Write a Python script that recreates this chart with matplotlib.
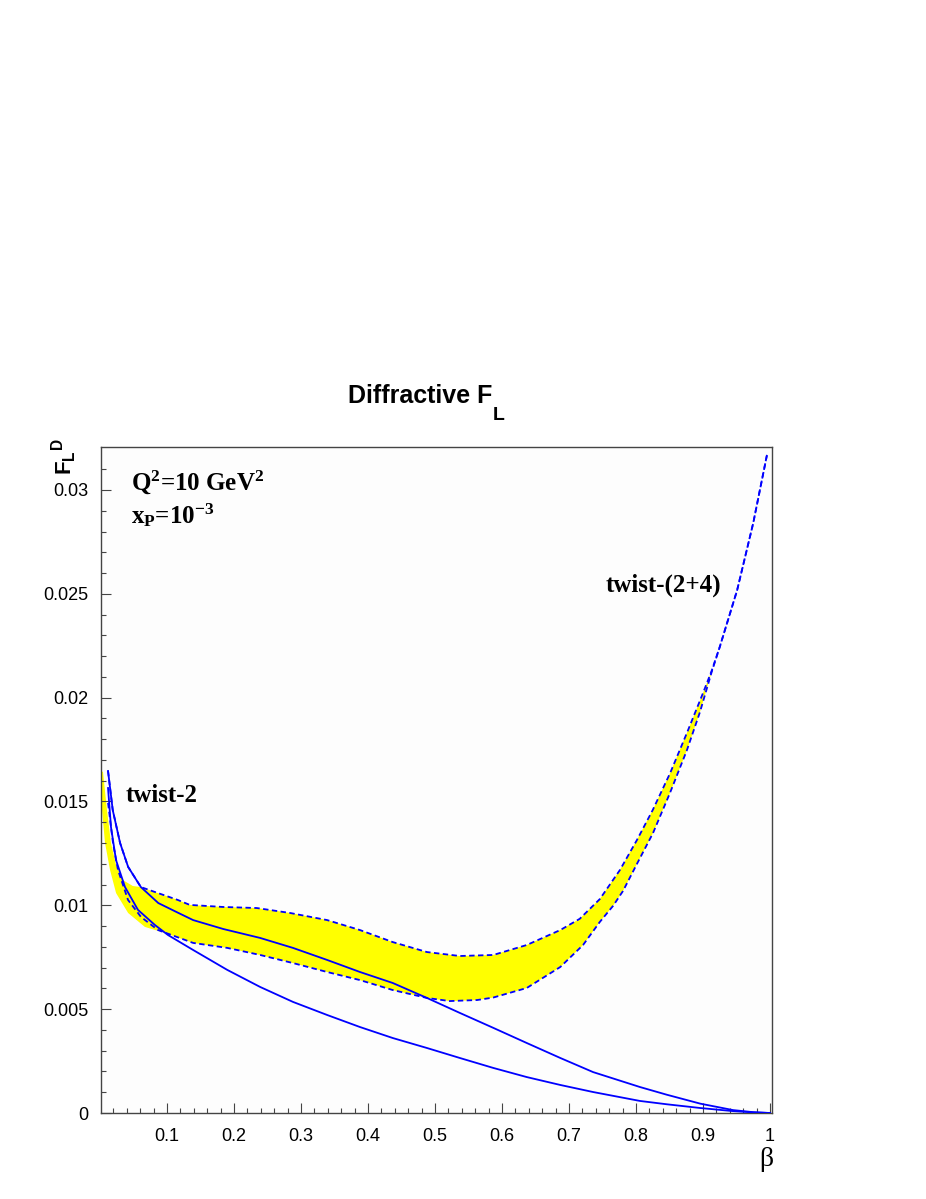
import numpy as np
import matplotlib
matplotlib.use("Agg")
import matplotlib.pyplot as plt

plt.rcParams['mathtext.fontset'] = 'custom'
plt.rcParams['mathtext.rm'] = 'Liberation Serif:bold'
plt.rcParams['mathtext.it'] = 'Liberation Serif:bold'
plt.rcParams['mathtext.bf'] = 'Liberation Serif:bold'
plt.rcParams['mathtext.sf'] = 'Liberation Sans:bold'

# twist-2, upper solid curve
beta_t2_a = [0.012, 0.019, 0.030, 0.042, 0.061, 0.087, 0.116, 0.139, 0.184, 0.239,
             0.288, 0.339, 0.388, 0.437, 0.488, 0.537, 0.587, 0.637, 0.687, 0.736,
             0.806, 0.846, 0.896, 0.945, 0.975, 1.0]
F_t2_a = [0.01647, 0.01459, 0.01300, 0.01185, 0.01088, 0.01011, 0.00965, 0.00929, 0.00886, 0.00843,
          0.00795, 0.00737, 0.00679, 0.00626, 0.00554, 0.00482, 0.00410, 0.00337, 0.00265, 0.00197,
          0.00125, 0.00088, 0.00045, 0.00014, 0.00004, 0.0]

# twist-2, lower solid curve
beta_t2_b = [0.012, 0.0164, 0.0239, 0.0373, 0.0567, 0.0821, 0.1015, 0.139, 0.190, 0.239,
             0.288, 0.339, 0.388, 0.437, 0.488, 0.537, 0.587, 0.637, 0.687, 0.736,
             0.806, 0.846, 0.896, 0.945, 0.975, 1.0]
F_t2_b = [0.01565, 0.01377, 0.01218, 0.01088, 0.00978, 0.00905, 0.00857, 0.00785, 0.00689, 0.00607,
          0.00535, 0.00472, 0.00414, 0.00361, 0.00313, 0.00265, 0.00217, 0.00173, 0.00135, 0.00101,
          0.00058, 0.00042, 0.00024, 0.00009, 0.00003, 0.0]

# twist-(2+4), upper dashed curve
beta_t24_a = [0.012, 0.019, 0.030, 0.042, 0.061, 0.0866, 0.116, 0.134, 0.184, 0.234,
              0.284, 0.339, 0.388, 0.437, 0.488, 0.537, 0.587, 0.637, 0.687, 0.716,
              0.746, 0.776, 0.8015, 0.825, 0.851, 0.876, 0.900, 0.913, 0.925, 0.951,
              0.975, 0.9955]
F_t24_a = [0.01647, 0.01459, 0.01300, 0.01185, 0.01088, 0.01059, 0.01026, 0.01002, 0.00992, 0.00987,
           0.00963, 0.00929, 0.00881, 0.00823, 0.00775, 0.00756, 0.00761, 0.00809, 0.00881, 0.00935,
           0.01030, 0.01170, 0.01315, 0.01459, 0.01637, 0.01830, 0.02022, 0.02130, 0.02244, 0.02518,
           0.02841, 0.03169]

# twist-(2+4), lower dashed curve
beta_t24_b = [0.012, 0.0194, 0.0269, 0.0418, 0.0612, 0.0866, 0.139, 0.190, 0.239, 0.288,
              0.339, 0.388, 0.437, 0.488, 0.522, 0.563, 0.587, 0.637, 0.687, 0.721,
              0.746, 0.7657, 0.7806, 0.8015, 0.8254, 0.8507, 0.8761, 0.8955, 0.913, 0.925,
              0.951, 0.975, 0.9955]
F_t24_b = [0.01493, 0.01300, 0.01170, 0.01026, 0.00944, 0.00881, 0.00819, 0.00795, 0.00761, 0.00722,
           0.00679, 0.00640, 0.00592, 0.00554, 0.00539, 0.00544, 0.00556, 0.00602, 0.00703, 0.00809,
           0.00920, 0.00997, 0.01069, 0.01200, 0.01348, 0.01541, 0.01748, 0.01931, 0.02124, 0.02244,
           0.02518, 0.02841, 0.03169]

# yellow band edges at small beta (band leans left of the curves there)
band_top_beta = [0.0015, 0.0045, 0.0104, 0.0164, 0.024, 0.034, 0.049, 0.061]
band_top_F = [0.01647, 0.01642, 0.01459, 0.01300, 0.01194, 0.01122, 0.01093, 0.01088]
band_bot_beta = [0.0015, 0.003, 0.0075, 0.015, 0.024, 0.042, 0.067, 0.097]
band_bot_F = [0.01642, 0.01459, 0.01300, 0.01170, 0.01059, 0.00963, 0.00896, 0.00867]

xticks = [0.1, 0.2, 0.3, 0.4, 0.5, 0.6, 0.7, 0.8, 0.9, 1.0]
xticklabels = ['0.1', '0.2', '0.3', '0.4', '0.5', '0.6', '0.7', '0.8', '0.9', '1']
yticks = [0, 0.005, 0.01, 0.015, 0.02, 0.025, 0.03]
yticklabels = ['0', '0.005', '0.01', '0.015', '0.02', '0.025', '0.03']

fig = plt.figure(figsize=(9.26, 11.99), dpi=100)
ax = fig.add_axes([101/926, 1-1113/1199, 671/926, 666/1199])
ax.set_facecolor('#fdfdfd')

# band polygon
ua_b = np.array(beta_t24_a)
ua_f = np.array(F_t24_a)
lb_b = np.array(beta_t24_b)
lb_f = np.array(F_t24_b)
m_up = (ua_b > 0.07) & (ua_b <= 0.913)
m_lo = (lb_b > 0.12) & (lb_b <= 0.913)
poly_x = np.concatenate([band_top_beta, ua_b[m_up], lb_b[m_lo][::-1], band_bot_beta[::-1]])
poly_y = np.concatenate([band_top_F, ua_f[m_up], lb_f[m_lo][::-1], band_bot_F[::-1]])
ax.fill(poly_x, poly_y, color='#ffff00', lw=0, zorder=1)

blue = '#0000ff'
ax.plot(beta_t2_a, F_t2_a, color=blue, lw=1.3, zorder=3)
ax.plot(beta_t2_b, F_t2_b, color=blue, lw=1.3, zorder=3)
ax.plot(beta_t24_a, F_t24_a, color=blue, lw=1.3, ls=(0, (3.0, 1.9)), zorder=3)
ax.plot(beta_t24_b, F_t24_b, color=blue, lw=1.3, ls=(0, (3.0, 1.9)), zorder=3)

ax.set_xlim(0.0015, 1.003)
ax.set_ylim(0, 0.03207)
ax.set_xticks(xticks, xticklabels)
ax.set_yticks(yticks, yticklabels)
ax.set_xticks(np.arange(0.02, 1.0, 0.02), minor=True)
ax.set_yticks(np.arange(0.001, 0.032, 0.001), minor=True)
ax.tick_params(direction='in', which='major', length=7, width=0.8, color='#444444',
               labelsize=13, top=False, right=False)
ax.tick_params(direction='in', which='minor', length=3.5, width=0.8, color='#444444',
               top=False, right=False)
ax.tick_params(axis='y', pad=9)
ax.tick_params(axis='x', pad=11)
for lab in ax.get_xticklabels() + ax.get_yticklabels():
    lab.set_family('Liberation Sans')
for sp in ax.spines.values():
    sp.set_color('#444444')
    sp.set_linewidth(1.0)

# annotations
ax.text(0.047, 0.0300, 'Q$^{2}$=10 GeV$^{2}$', fontsize=18, fontweight='bold',
        family='Liberation Serif', va='baseline')
ax.text(0.047, 0.0284, 'x$_{P}$=10$^{-3}$', fontsize=18, fontweight='bold',
        family='Liberation Serif', va='baseline')
ax.text(0.0388, 0.01498, 'twist-2', fontsize=18, fontweight='bold',
        family='Liberation Serif', va='baseline')
ax.text(0.754, 0.02509, 'twist-(2+4)', fontsize=18, fontweight='bold',
        family='Liberation Serif', va='baseline')

# title and axis labels
fig.text(348/926, 1-403/1199, 'Diffractive F', fontsize=18, fontweight='bold',
         family='Liberation Sans', va='baseline', ha='left')
fig.text(493/926, 1-420/1199, 'L', fontsize=14, fontweight='bold',
         family='Liberation Sans', va='baseline', ha='left')
fig.text(64/926, 1-457/1199, r'$\mathsf{F_{L}{}^{D}}$', fontsize=16, rotation=90,
         ha='center', va='center')
fig.text(766/926, 1-1160/1199, 'β', fontsize=20, family='Liberation Serif',
         ha='center', va='center')

fig.savefig('out.png', dpi=100)
